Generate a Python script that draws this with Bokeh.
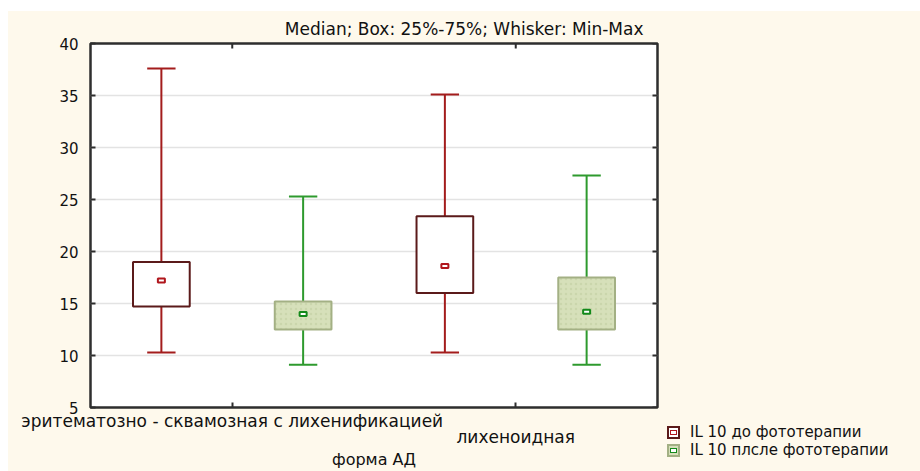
import math

from bokeh.plotting import figure
from bokeh.layouts import row
from bokeh.models import Range1d, FixedTicker, ColumnDataSource, Div
from bokeh.embed import file_html
from bokeh.resources import INLINE

# ---- data -------------------------------------------------------------
categories = ["эритематозно - сквамозная с лихенификацией", "лихеноидная"]
series = ["IL 10 до фототерапии", "IL 10 плсле фототерапии"]

# IL 10 before phototherapy, one value per category
before_min = [10.3, 10.3]
before_q1 = [14.7, 16.0]
before_median = [17.2, 18.6]
before_q3 = [19.0, 23.4]
before_max = [37.6, 35.1]

# IL 10 after phototherapy
after_min = [9.1, 9.1]
after_q1 = [12.5, 12.5]
after_median = [14.0, 14.2]
after_q3 = [15.2, 17.5]
after_max = [25.3, 27.3]

y_ticks = [5, 10, 15, 20, 25, 30, 35, 40]
title_text = "Median; Box: 25%-75%; Whisker: Min-Max"
x_title = "форма АД"

# ---- style ------------------------------------------------------------
FONT = "DejaVu Sans"
CREAM = "#FEF9EC"
TEXT = "#111111"
FRAME = "#2E2E2E"
RED_WHISKER = "#A31C1C"
RED_BOX_LINE = "#5B1A1A"
RED_MEDIAN = "#B0161C"
GREEN_WHISKER = "#2E9A2E"
GREEN_BOX_FILL = "#D6E0BA"
GREEN_BOX_LINE = "#A3B084"
GREEN_MEDIAN = "#13891A"

OFFSET = 0.25      # horizontal shift of each series inside a category
BOX_W = 0.2
CAP_HALF = 0.05

centers = [i + 0.5 for i in range(len(categories))]
x_end = len(categories)
y_start, y_end = y_ticks[0], y_ticks[-1]


def make_source(shift, lo, q1, med, q3, hi):
    xs = [c + shift for c in centers]
    return ColumnDataSource(dict(
        x=xs, cl=[x - CAP_HALF for x in xs], cr=[x + CAP_HALF for x in xs],
        lo=lo, q1=q1, med=med, q3=q3, hi=hi))


src_before = make_source(-OFFSET, before_min, before_q1, before_median, before_q3, before_max)
src_after = make_source(OFFSET, after_min, after_q1, after_median, after_q3, after_max)

before_style = dict(whisker=RED_WHISKER, fill="white", line=RED_BOX_LINE,
                    median=RED_MEDIAN, hatch=None)
after_style = dict(whisker=GREEN_WHISKER, fill=GREEN_BOX_FILL, line=GREEN_BOX_LINE,
                   median=GREEN_MEDIAN, hatch="#B5C492")

# ---- main chart -------------------------------------------------------
p = figure(width=653, height=460,
           x_range=Range1d(0, x_end), y_range=Range1d(y_start, y_end),
           output_backend="svg", toolbar_location=None,
           min_border_left=82, min_border_right=4,
           min_border_top=32, min_border_bottom=63,
           background_fill_color="white", border_fill_color=CREAM,
           outline_line_color=FRAME, outline_line_width=2.5)


def draw_series(src, st):
    for y0, y1 in (("q3", "hi"), ("lo", "q1")):
        p.segment(x0="x", y0=y0, x1="x", y1=y1, source=src,
                  line_color=st["whisker"], line_width=2)
    for yy in ("hi", "lo"):
        p.segment(x0="cl", y0=yy, x1="cr", y1=yy, source=src,
                  line_color=st["whisker"], line_width=2)
    kw = {}
    if st["hatch"]:
        kw = dict(hatch_pattern="dot", hatch_color=st["hatch"], hatch_scale=5,
                  hatch_weight=1, hatch_alpha=0.35)
    p.vbar(x="x", width=BOX_W, bottom="q1", top="q3", source=src,
           fill_color=st["fill"], line_color=st["line"], line_width=2, **kw)
    # median: small flat rectangle of fixed screen size
    p.rect(x="x", y="med", source=src, width=7, height=4,
           width_units="screen", height_units="screen",
           fill_color="white", line_color=st["median"], line_width=2)


draw_series(src_before, before_style)
draw_series(src_after, after_style)

# inward ticks on the right and top edges: dashes centred on the frame
# edge, the outer half is clipped away by the frame
p.scatter(x=[x_end] * len(y_ticks), y=y_ticks, marker="dash", size=10,
          line_color=FRAME, line_width=2)
p.scatter(x=centers, y=[y_end] * len(centers), marker="dash", angle=math.pi / 2,
          size=10, line_color=FRAME, line_width=2)


def style_axis(ax):
    ax.major_tick_in = 5
    ax.major_tick_out = 0
    ax.major_tick_line_color = FRAME
    ax.major_tick_line_width = 2
    ax.minor_tick_line_color = None
    ax.axis_line_color = None
    ax.major_label_text_font = FONT
    ax.major_label_text_color = TEXT


yaxis = p.yaxis[0]
yaxis.ticker = FixedTicker(ticks=y_ticks)
style_axis(yaxis)
yaxis.major_label_text_font_size = "15px"
yaxis.major_label_standoff = 12

xaxis = p.xaxis[0]
xaxis.ticker = FixedTicker(ticks=centers)
style_axis(xaxis)
xaxis.major_label_text_font_size = "17px"
xaxis.major_label_text_line_height = 0.82
xaxis.major_label_standoff = 3
# category names alternate between two rows
xaxis.major_label_overrides = {c: ("\n" * (i % 2)) + name
                               for i, (c, name) in enumerate(zip(centers, categories))}
xaxis.axis_label = x_title
xaxis.axis_label_text_font = FONT
xaxis.axis_label_text_font_size = "16px"
xaxis.axis_label_text_font_style = "normal"
xaxis.axis_label_text_color = TEXT
xaxis.axis_label_standoff = 0

p.xgrid.visible = False
p.ygrid.ticker = FixedTicker(ticks=y_ticks)
p.ygrid.grid_line_color = "#E3E3E3"
p.ygrid.grid_line_width = 1.5

p.title.text = title_text
p.title.align = "right"
p.title.offset = 14
p.title.standoff = 9
p.title.text_line_height = 0.8
p.title.text_font = FONT
p.title.text_font_size = "17px"
p.title.text_font_style = "normal"
p.title.text_color = TEXT

# ---- legend strip to the right of the chart ---------------------------
rows_html = []
for name, st in zip(series, (before_style, after_style)):
    icon = ('<span style="display:inline-flex;align-items:center;justify-content:center;'
            'box-sizing:border-box;width:13px;height:13px;margin-right:10px;flex:none;'
            f'background:{st["fill"]};border:2px solid {st["line"]};">'
            '<span style="box-sizing:border-box;width:7px;height:5px;background:white;'
            f'border:1.5px solid {st["median"]};"></span></span>')
    rows_html.append('<div style="display:flex;align-items:center;height:17.5px;">'
                     f'{icon}<span style="line-height:17px;">{name}</span></div>')

legend_html = (f'<div style="padding:413px 0 0 6px;font-family:\'{FONT}\';'
               f'font-size:15px;color:{TEXT};white-space:nowrap;">'
               + "".join(rows_html) + '</div>')

legend_box = Div(text=legend_html, width=259, height=460, margin=0,
                 styles={"background-color": CREAM})

layout = row(p, legend_box)
layout.margin = (11, 0, 0, 8)
layout.styles = {"background-color": CREAM}

open("out.html", "w").write(file_html(layout, INLINE))
